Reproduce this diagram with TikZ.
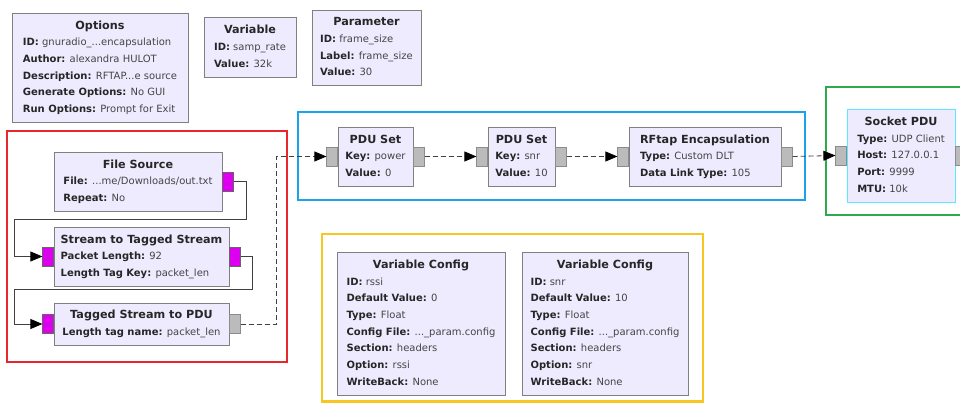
\documentclass[tikz,border=0pt]{standalone}
\usepackage{fontspec}
\setmainfont{DejaVu Sans}
\usepackage{xcolor}
\usepackage{tikz}
\usetikzlibrary{arrows.meta,positioning}
\definecolor{blockfill}{HTML}{EFEBFF}
\definecolor{blockline}{HTML}{808080}
\definecolor{bytemag}{HTML}{DD00EE}
\definecolor{msggray}{HTML}{BBBBBB}
\definecolor{grpred}{HTML}{E8262E}
\definecolor{grpblue}{HTML}{1AA3E8}
\definecolor{grpgreen}{HTML}{2EAA4A}
\definecolor{grpyellow}{HTML}{F7C620}
\definecolor{selcyan}{HTML}{5EE8FF}
\definecolor{valgray}{HTML}{444444}
\newcommand{\blk}[2]{\begin{tabular}{@{}l@{}}\multicolumn{1}{@{}c@{}}{\fontsize{11.2}{13}\selectfont\bfseries #1}\\#2\end{tabular}}
\newcommand{\prm}[2]{\textbf{#1:} {\color{valgray}#2}}

\begin{document}
\begin{tikzpicture}[x=1pt,y=-1pt,>={Triangle[length=12pt,width=10pt,color=black]},
  block/.style={draw=blockline,fill=blockfill,inner sep=0pt,text=black!85,font=\fontsize{10}{16.7}\selectfont},
  byteport/.style={draw=black!60,fill=bytemag,minimum width=11pt,minimum height=19pt,inner sep=0pt},
  msgport/.style={draw=black!45,fill=msggray,minimum width=11pt,minimum height=19pt,inner sep=0pt},
  wire/.style={draw=black!75,line width=0.8pt},
  msgwire/.style={draw=black!75,line width=0.8pt,dash pattern=on 5pt off 3pt},
  group/.style={line width=2.6pt}]
  \useasboundingbox (0,0) rectangle (960,403);
  % group frames
  \draw[group,grpred] (7,131) rectangle (287,362);
  \draw[group,grpblue] (298,112) rectangle (805,200);
  \draw[group,grpgreen] (826,87) rectangle (975,215);
  \draw[group,grpyellow] (322,234) rectangle (703,401.5);
  % variables and options
  \node[block,minimum width=176pt,minimum height=109pt] (opt) at (100,67.5) {\blk{Options}{%
    \prm{ID}{gnuradio\_...encapsulation}\\
    \prm{Author}{alexandra HULOT}\\
    \prm{Description}{RFTAP...e source}\\
    \prm{Generate Options}{No GUI}\\
    \prm{Run Options}{Prompt for Exit}}};
  \node[block,minimum width=92pt,minimum height=60pt] (var) at (250,47) {\blk{Variable}{%
    \prm{ID}{samp\_rate}\\
    \prm{Value}{32k}}};
  \node[block,minimum width=109pt,minimum height=75pt] (par) at (366.5,47.5) {\blk{Parameter}{%
    \prm{ID}{frame\_size}\\
    \prm{Label}{frame\_size}\\
    \prm{Value}{30}}};
  % stream blocks
  \node[block,minimum width=168pt,minimum height=59pt] (fsrc) at (138,181.5) {\blk{File Source}{%
    \prm{File}{...me/Downloads/out.txt}\\
    \prm{Repeat}{No}}};
  \node[block,minimum width=175pt,minimum height=59pt] (s2ts) at (141.5,256.5) {\blk{Stream to Tagged Stream}{%
    \prm{Packet Length}{92}\\
    \prm{Length Tag Key}{packet\_len}}};
  \node[block,minimum width=175pt,minimum height=42pt] (ts2pdu) at (141.5,324) {\blk{Tagged Stream to PDU}{%
    \prm{Length tag name}{packet\_len}}};
  % message blocks
  \node[block,minimum width=75pt,minimum height=59pt] (pdu1) at (375.5,156.5) {\blk{PDU Set}{%
    \prm{Key}{power}\\
    \prm{Value}{0}}};
  \node[block,minimum width=67pt,minimum height=59pt] (pdu2) at (521.5,156.5) {\blk{PDU Set}{%
    \prm{Key}{snr}\\
    \prm{Value}{10}}};
  \node[block,minimum width=152pt,minimum height=59pt] (rftap) at (705,156.5) {\blk{RFtap Encapsulation}{%
    \prm{Type}{Custom DLT}\\
    \prm{Data Link Type}{105}}};
  \node[block,draw=selcyan,minimum width=108pt,minimum height=93pt] (sock) at (901,155.5) {\blk{Socket PDU}{%
    \prm{Type}{UDP Client}\\
    \prm{Host}{127.0.0.1}\\
    \prm{Port}{9999}\\
    \prm{MTU}{10k}}};
  % variable configs
  \node[block,minimum width=168pt,minimum height=143pt] (vc1) at (421,323.5) {\blk{Variable Config}{%
    \prm{ID}{rssi}\\
    \prm{Default Value}{0}\\
    \prm{Type}{Float}\\
    \prm{Config File}{...\_param.config}\\
    \prm{Section}{headers}\\
    \prm{Option}{rssi}\\
    \prm{WriteBack}{None}}};
  \node[block,minimum width=166pt,minimum height=143pt] (vc2) at (605,323.5) {\blk{Variable Config}{%
    \prm{ID}{snr}\\
    \prm{Default Value}{10}\\
    \prm{Type}{Float}\\
    \prm{Config File}{...\_param.config}\\
    \prm{Section}{headers}\\
    \prm{Option}{snr}\\
    \prm{WriteBack}{None}}};
  % ports
  \node[byteport,anchor=west] (fsrc-out) at (fsrc.east) {};
  \node[byteport,anchor=east] (s2ts-in) at (s2ts.west) {};
  \node[byteport,anchor=west] (s2ts-out) at (s2ts.east) {};
  \node[byteport,anchor=east] (ts2pdu-in) at (ts2pdu.west) {};
  \node[msgport,anchor=west] (ts2pdu-out) at (ts2pdu.east) {};
  \foreach \b in {pdu1,pdu2,rftap,sock}{
    \node[msgport,anchor=east] (\b-in) at (\b.west) {};
    \node[msgport,anchor=west] (\b-out) at (\b.east) {};
  }
  % connections
  \draw[wire,->] (fsrc-out.east) -- ++(13,0) |- (14,219) |- (s2ts-in.west);
  \draw[wire,->] (s2ts-out.east) -- ++(12,0) |- (14,289) |- (ts2pdu-in.west);
  \draw[msgwire,->] (ts2pdu-out.east) -- ++(36,0) |- (pdu1-in.west);
  \draw[msgwire,->] (pdu1-out.east) -- (pdu2-in.west);
  \draw[msgwire,->] (pdu2-out.east) -- (rftap-in.west);
  \draw[msgwire,->] (rftap-out.east) -- (sock-in.west);
\end{tikzpicture}
\end{document}
